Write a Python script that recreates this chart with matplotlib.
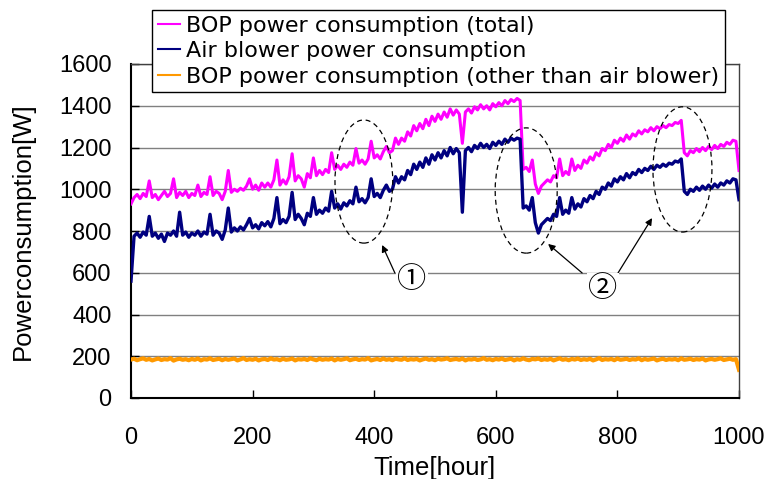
import numpy as np
import matplotlib
matplotlib.use("Agg")
import matplotlib.pyplot as plt
from matplotlib.patches import Ellipse

# ---------------------------------------------------------
# Data (5 hour steps)
# ---------------------------------------------------------
hours = np.arange(0, 1001, 5)

bop_total = [
    930, 960, 975, 955, 980, 965, 1040, 960, 975, 950,
    970, 990, 965, 980, 1050, 960, 985, 970, 990, 960,
    980, 970, 1020, 965, 985, 975, 1060, 970, 990, 980,
    950, 990, 1090, 985, 1000, 990, 1005, 995, 1015, 1050,
    1000, 1020, 995, 1030, 1010, 1030, 1010, 1045, 1140, 1020,
    1045, 1025, 1060, 1170, 1040, 1065, 1050, 1010, 1075, 1055,
    1150, 1065, 1090, 1070, 1095, 1080, 1175, 1095, 1115, 1095,
    1120, 1105, 1130, 1115, 1195, 1125, 1140, 1120, 1145, 1230,
    1150, 1165, 1145, 1180, 1205, 1175, 1185, 1245, 1215, 1245,
    1230, 1275, 1255, 1305, 1280, 1315, 1290, 1335, 1305, 1350,
    1325, 1360, 1335, 1370, 1345, 1385, 1355, 1380, 1360, 1220,
    1370, 1385, 1365, 1395, 1380, 1405, 1385, 1400, 1380, 1410,
    1395, 1415, 1400, 1425, 1410, 1430, 1420, 1435, 1425, 1095,
    1105, 1085, 1140, 1025, 980, 1015, 1030, 1045, 1035, 1065,
    1055, 1145, 1065, 1085, 1070, 1145, 1090, 1115, 1100, 1140,
    1125, 1155, 1140, 1175, 1160, 1195, 1185, 1215, 1200, 1235,
    1220, 1245, 1230, 1260, 1240, 1265, 1255, 1280, 1265, 1285,
    1275, 1295, 1280, 1300, 1290, 1305, 1295, 1310, 1305, 1320,
    1315, 1330, 1175, 1160, 1185, 1175, 1195, 1180, 1200, 1185,
    1205, 1190, 1210, 1195, 1215, 1205, 1225, 1215, 1235, 1230,
    1090,
]

air_blower = [
    560, 775, 790, 770, 795, 780, 870, 775, 790, 765,
    785, 750, 790, 780, 800, 775, 890, 780, 795, 770,
    790, 780, 800, 775, 795, 785, 880, 780, 800, 790,
    760, 805, 910, 795, 815, 800, 820, 805, 830, 860,
    815, 830, 810, 840, 825, 845, 820, 860, 960, 835,
    855, 840, 870, 985, 855, 880, 860, 830, 885, 870,
    960, 880, 900, 885, 910, 895, 990, 910, 930, 905,
    935, 920, 945, 930, 1010, 940, 955, 935, 960, 1050,
    965, 980, 960, 995, 1020, 990, 1000, 1060, 1030, 1060,
    1045, 1090, 1070, 1120, 1095, 1130, 1105, 1150, 1120, 1165,
    1140, 1175, 1150, 1185, 1160, 1200, 1170, 1195, 1175, 890,
    1185, 1200, 1180, 1210, 1195, 1220, 1200, 1215, 1195, 1225,
    1210, 1230, 1215, 1240, 1225, 1245, 1235, 1245, 1240, 910,
    920, 900, 960, 840, 790, 830, 845, 860, 850, 880,
    870, 960, 880, 900, 885, 960, 905, 930, 915, 955,
    940, 970, 955, 990, 975, 1010, 1000, 1030, 1015, 1050,
    1035, 1060, 1045, 1075, 1055, 1080, 1070, 1095, 1080, 1100,
    1090, 1110, 1095, 1115, 1105, 1120, 1110, 1125, 1120, 1135,
    1130, 1145, 990, 975, 1000, 990, 1010, 995, 1015, 1000,
    1020, 1005, 1025, 1010, 1030, 1020, 1040, 1030, 1050, 1045,
    950,
]

bop_other = [
    184, 188, 181, 186, 190, 183, 187, 180, 185, 189,
    182, 186, 184, 191, 179, 185, 188, 183, 186, 181,
    187, 183, 189, 180, 186, 184, 190, 182, 185, 188,
    181, 187, 183, 186, 189, 180, 185, 191, 182, 186,
    183, 188, 180, 185, 187, 182, 190, 184, 186, 181,
    188, 183, 185, 189, 180, 186, 184, 187, 182, 190,
    185, 181, 188, 183, 186, 184, 189, 180, 187, 183,
    186, 190, 181, 185, 188, 182, 186, 184, 191, 180,
    184, 187, 182, 189, 183, 186, 181, 188, 185, 183,
    190, 182, 186, 184, 187, 180, 185, 189, 183, 186,
    181, 188, 184, 186, 190, 182, 185, 187, 183, 189,
    180, 186, 184, 188, 182, 185, 191, 183, 186, 181,
    187, 184, 189, 182, 185, 188, 180, 186, 183, 190,
    184, 181, 187, 185, 189, 182, 186, 183, 188, 180,
    185, 190, 183, 186, 181, 187, 184, 189, 182, 186,
    183, 188, 180, 185, 191, 182, 186, 184, 187, 181,
    189, 183, 185, 188, 182, 186, 184, 190, 181, 187,
    183, 186, 189, 180, 185, 188, 182, 186, 184, 187,
    181, 190, 183, 185, 188, 182, 186, 184, 189, 180,
    185, 187, 183, 186, 190, 182, 185, 188, 183, 186,
    135,
]

series_labels = [
    "BOP power consumption (total)",
    "Air blower power consumption",
    "BOP power consumption (other than air blower)",
]
series_colors = ["#FF00FF", "#000080", "#FF9900"]

x_ticks = [0, 200, 400, 600, 800, 1000]
y_ticks = [0, 200, 400, 600, 800, 1000, 1200, 1400, 1600]

TICK_FONT = "Liberation Sans"
LEGEND_FONT = "DejaVu Sans"
CIRCLE_FONT = ["Noto Sans CJK JP", "DejaVu Sans"]


def draw_ellipses(ax):
    # dashed circles marking the load steps (center hour, center W, width h, height W)
    for cx, cy, w, h in [(383, 1037, 95, 590), (650, 994, 102, 600), (907, 1095, 97, 600)]:
        ax.add_patch(Ellipse((cx, cy), w, h, fill=False, edgecolor="black",
                             linestyle=(0, (4, 3)), linewidth=0.9, zorder=5))


def draw_markers(ax):
    arrow = dict(arrowstyle="-|>", color="black", lw=0.9, mutation_scale=10,
                 shrinkA=0, shrinkB=0)
    ax.annotate("", xy=(413, 733), xytext=(434, 599), arrowprops=arrow, zorder=6)
    ax.annotate("", xy=(686, 738), xytext=(742, 599), arrowprops=arrow, zorder=6)
    ax.annotate("", xy=(857, 862), xytext=(801, 599), arrowprops=arrow, zorder=6)

    box = dict(facecolor="white", edgecolor="none", pad=1)
    ax.text(462, 565, "①", fontsize=21, family=CIRCLE_FONT, ha="center", va="center",
            bbox=box, zorder=6)
    ax.text(776, 522, "②", fontsize=21, family=CIRCLE_FONT, ha="center", va="center",
            bbox=box, zorder=6)


def main():
    fig = plt.figure(figsize=(7.68, 4.79), dpi=100)
    ax = fig.add_axes([131 / 768, 81 / 479, 608 / 768, 334 / 479])

    for vals, col, lab, lw in zip([bop_total, air_blower, bop_other],
                                  series_colors, series_labels, [2.2, 2.4, 3.0]):
        ax.plot(hours, vals, color=col, linewidth=lw, label=lab, zorder=3)

    ax.set_xlim(0, 1000)
    ax.set_ylim(0, 1600)
    ax.set_xticks(x_ticks)
    ax.set_yticks(y_ticks)
    ax.grid(axis="y", color="#808080", linewidth=1.0, zorder=1)
    ax.tick_params(direction="in", length=6, width=1.0, labelsize=17)
    ax.tick_params(axis="x", pad=21)
    ax.tick_params(axis="y", pad=14)
    for lab in ax.get_xticklabels() + ax.get_yticklabels():
        lab.set_family(TICK_FONT)
    for side in ["left", "bottom"]:
        ax.spines[side].set_linewidth(1.5)
    for side in ["top", "right"]:
        ax.spines[side].set_linewidth(1.0)
        ax.spines[side].set_color("#404040")

    ax.set_xlabel("Time[hour]", fontsize=18.5, family=TICK_FONT, labelpad=5)
    ax.set_ylabel("Powerconsumption[W]", fontsize=18.5, family=TICK_FONT, labelpad=17)

    draw_ellipses(ax)
    draw_markers(ax)

    leg_handles = [plt.Line2D([], [], color=c, linewidth=1.5) for c in series_colors]
    leg = fig.legend(leg_handles, series_labels, loc="upper left",
                     bbox_to_anchor=(152 / 768, 1 - 10 / 479),
                     prop={"family": LEGEND_FONT, "size": 16},
                     frameon=True, fancybox=False, edgecolor="black", framealpha=1,
                     borderpad=0.25, handlelength=1.0, handletextpad=0.3,
                     labelspacing=0.25, borderaxespad=0)
    leg.get_frame().set_linewidth(1.0)

    fig.savefig("out.png", dpi=100)
    plt.close(fig)


if __name__ == "__main__":
    main()
